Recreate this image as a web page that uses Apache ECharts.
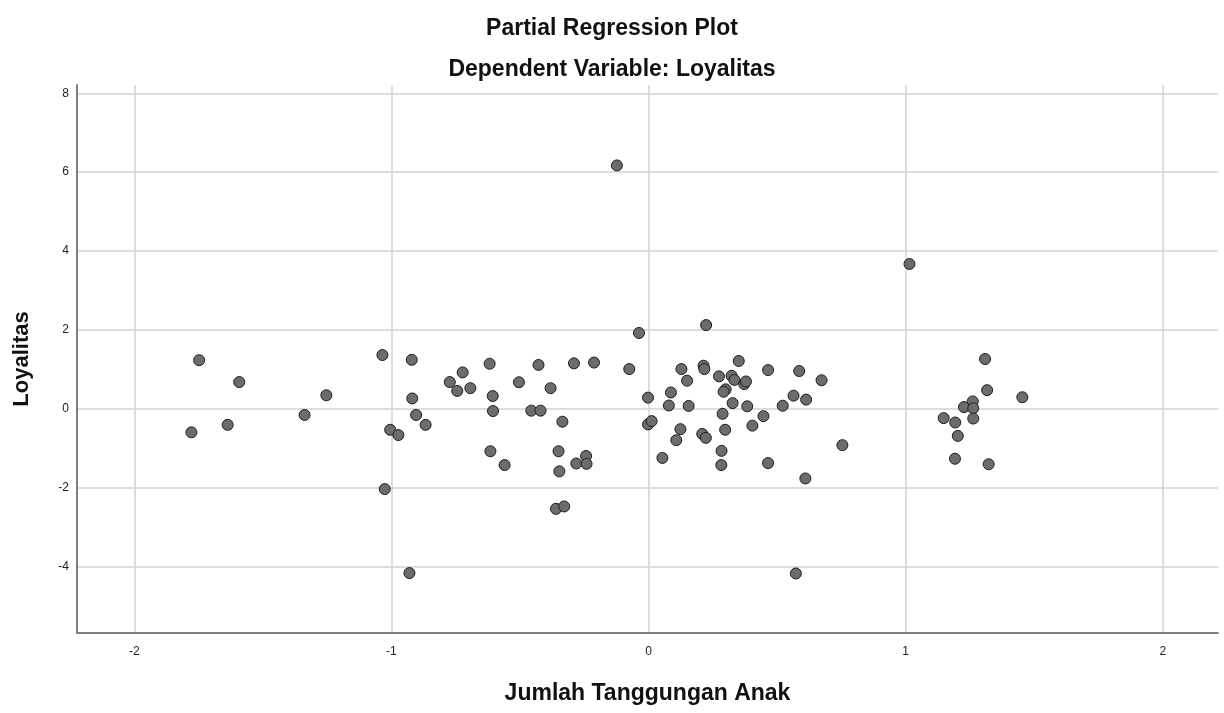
<!DOCTYPE html>
<html>
<head>
<meta charset="utf-8">
<script src="https://cdn.jsdelivr.net/npm/echarts@6/dist/echarts.min.js"></script>
<style>
html,body{margin:0;padding:0;background:#fff;}
#chart{width:1224px;height:713px;}
</style>
</head>
<body>
<div id="chart"></div>
<script>
const chartTitle = "Partial Regression Plot";
const chartSubtitle = "Dependent Variable: Loyalitas";
const xAxisName = "Jumlah Tanggungan Anak";
const yAxisName = "Loyalitas";
const xTicks = [-2, -1, 0, 1, 2];
const yTicks = [-4, -2, 0, 2, 4, 6, 8];

const xValues = [
  -1.748, -1.592, -1.778, -1.637, -1.338, -1.253, -1.035, -0.921, -0.919, -0.904,
  -0.867, -1.005, -0.973, -1.026, -0.930, -0.773, -0.723, -0.744, -0.693, -0.618,
  -0.606, -0.605, -0.615, -0.560, -0.504, -0.456, -0.420, -0.428, -0.381, -0.335,
  -0.350, -0.347, -0.360, -0.328, -0.290, -0.281, -0.243, -0.241, -0.212, -0.123,
  -0.075, -0.037, -0.002, -0.002, 0.012, 0.054, 0.087, 0.079, 0.128, 0.150,
  0.156, 0.124, 0.108, 0.224, 0.214, 0.217, 0.209, 0.223, 0.274, 0.300,
  0.292, 0.288, 0.298, 0.284, 0.283, 0.323, 0.334, 0.327, 0.351, 0.372,
  0.379, 0.384, 0.404, 0.447, 0.465, 0.465, 0.522, 0.564, 0.586, 0.613,
  0.610, 0.573, 0.673, 0.754, 1.015, 1.309, 1.317, 1.454, 1.261, 1.227,
  1.263, 1.148, 1.193, 1.263, 1.203, 1.192, 1.323
];
const yValues = [
  1.23, 0.675, -0.60, -0.41, -0.16, 0.34, 1.36, 1.24, 0.26, -0.16,
  -0.41, -0.535, -0.67, -2.04, -4.17, 0.675, 0.92, 0.45, 0.52, 1.14,
  0.32, -0.06, -1.08, -1.43, 0.67, -0.05, -0.05, 1.11, 0.52, -0.33,
  -1.08, -1.59, -2.54, -2.48, 1.15, -1.39, -1.20, -1.40, 1.17, 6.17,
  1.005, 1.92, 0.28, -0.40, -0.315, -1.25, 0.41, 0.08, 1.005, 0.71,
  0.07, -0.52, -0.80, 2.12, 1.09, 1.005, -0.64, -0.74, 0.82, 0.49,
  0.43, -0.13, -0.535, -1.07, -1.43, 0.835, 0.73, 0.14, 1.21, 0.625,
  0.69, 0.06, -0.43, -0.19, 0.98, -1.38, 0.075, 0.33, 0.955, 0.23,
  -1.77, -4.18, 0.72, -0.925, 3.67, 1.26, 0.47, 0.29, 0.185, 0.04,
  0.01, -0.24, -0.35, -0.25, -0.69, -1.27, -1.41
];

const points = xValues.map((x, i) => [x, yValues[i]]);
const font = "'Liberation Sans', Arial, sans-serif";

const chart = echarts.init(document.getElementById('chart'), null, {renderer: 'canvas'});
chart.setOption({
  animation: false,
  backgroundColor: '#ffffff',
  title: [
    {text: chartTitle, left: 'center', top: 12,
     textStyle: {fontFamily: font, fontSize: 23, fontWeight: 'bold', color: '#111'}},
    {text: chartSubtitle, left: 'center', top: 53,
     textStyle: {fontFamily: font, fontSize: 23, fontWeight: 'bold', color: '#111'}}
  ],
  grid: {left: 77, right: 6, top: 85, bottom: 80, containLabel: false, outerBoundsMode: 'none'},
  xAxis: {
    type: 'value', min: -2.223, max: 2.215,
    name: xAxisName, nameLocation: 'middle', nameGap: 49,
    nameTextStyle: {fontFamily: font, fontSize: 23, fontWeight: 'bold', color: '#111'},
    axisLine: {show: true, onZero: false, lineStyle: {color: '#808080', width: 2}},
    axisTick: {show: false, customValues: xTicks},
    axisLabel: {customValues: xTicks, fontFamily: font, fontSize: 12, color: '#222', margin: 13},
    splitLine: {show: true, lineStyle: {color: '#d2d2d2', width: 1.5}}
  },
  yAxis: {
    type: 'value', min: -5.69, max: 8.21,
    name: yAxisName, nameLocation: 'middle', nameGap: 44,
    nameTextStyle: {fontFamily: font, fontSize: 22, fontWeight: 'bold', color: '#111'},
    axisLine: {show: true, onZero: false, lineStyle: {color: '#808080', width: 2}},
    axisTick: {show: false, customValues: yTicks},
    axisLabel: {customValues: yTicks, fontFamily: font, fontSize: 12, color: '#222', margin: 8},
    splitLine: {show: true, lineStyle: {color: '#d2d2d2', width: 1.5}}
  },
  series: [{
    type: 'scatter',
    data: points,
    symbol: 'circle',
    symbolSize: 11,
    itemStyle: {color: '#6c6c6c', borderColor: '#1e1e1e', borderWidth: 1, opacity: 1}
  }]
});
</script>
</body>
</html>
